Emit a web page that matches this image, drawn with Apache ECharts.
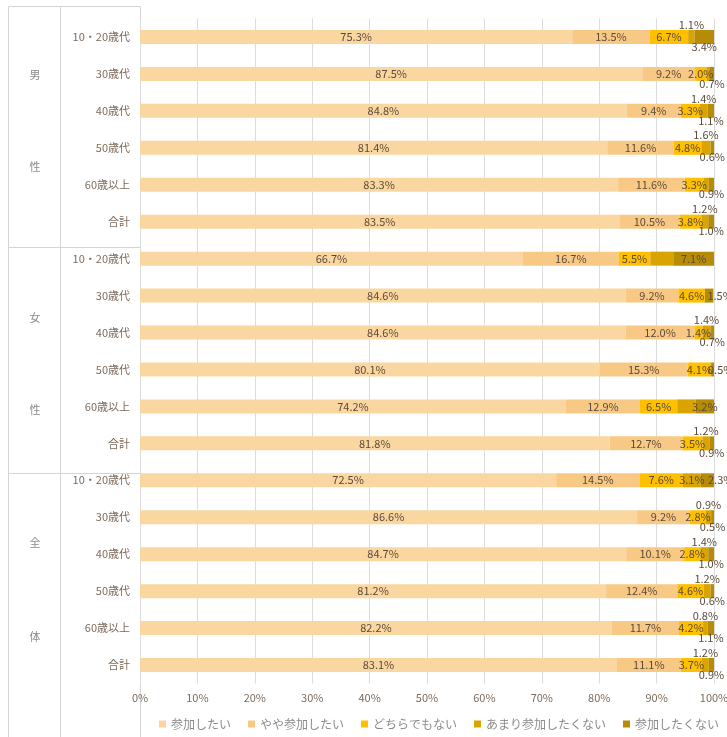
<!DOCTYPE html>
<html>
<head>
<meta charset="utf-8">
<script src="https://cdn.jsdelivr.net/npm/echarts@6/dist/echarts.min.js"></script>
<style>
  html, body { margin: 0; padding: 0; background: #ffffff; }
  #chart { width: 727px; height: 737px; }
</style>
</head>
<body>
<div id="chart"></div>
<script>
// Respondent groups and age bands (rows of the chart, top to bottom)
const groups = ['男性', '女性', '全体'];
const ageBands = ['10・20歳代', '30歳代', '40歳代', '50歳代', '60歳以上', '合計'];

// Answer categories (stack order, left to right)
const answers = ['参加したい', 'やや参加したい', 'どちらでもない', 'あまり参加したくない', '参加したくない'];

// Shares in %, 18 rows: 男性 ×6, 女性 ×6, 全体 ×6
const wantToJoin = [75.3, 87.5, 84.8, 81.4, 83.3, 83.5,
                    66.7, 84.6, 84.6, 80.1, 74.2, 81.8,
                    72.5, 86.6, 84.7, 81.2, 82.2, 83.1];
const somewhatWant = [13.5, 9.2, 9.4, 11.6, 11.6, 10.5,
                      16.7, 9.2, 12.0, 15.3, 12.9, 12.7,
                      14.5, 9.2, 10.1, 12.4, 11.7, 11.1];
const neutral = [6.7, 2.0, 3.3, 4.8, 3.3, 3.8,
                 5.5, 4.6, 1.4, 4.1, 6.5, 3.5,
                 7.6, 2.8, 2.8, 4.6, 4.2, 3.7];
const ratherNot = [1.1, 0.6, 1.4, 1.6, 0.9, 1.2,
                   4.0, 0.0, 1.4, 0.0, 3.2, 1.2,
                   3.1, 0.9, 1.4, 1.2, 0.8, 1.2];
const notAtAll = [3.4, 0.7, 1.1, 0.6, 0.9, 1.0,
                  7.1, 1.5, 0.7, 0.5, 3.2, 0.9,
                  2.3, 0.5, 1.0, 0.6, 1.1, 0.9];

// Rows whose あまり参加したくない value carries no printed label
const unlabeledRatherNot = [1, 4, 6, 10];

// X axis ticks
const xMin = 0, xMax = 100, xStep = 10;

const rowKeys = [];
groups.forEach(g => ageBands.forEach(a => rowKeys.push(g + '|' + a)));

const colors = ['#FAD7A0', '#F8C985', '#FFC000', '#D9A300', '#B68B06'];
const labelColor = '#5b4a3a';
const fontFamily = '"Noto Sans CJK JP", "Noto Sans", sans-serif';
const fmt = v => v.toFixed(1) + '%';

function ratherNotLabelState(i) {
  const v = ratherNot[i];
  if (v === 0 || unlabeledRatherNot.includes(i)) return 'hidden';
  return v >= 2.5 ? 'inside' : 'top';
}

function baseLabel() {
  return { show: true, color: labelColor, fontSize: 11, fontFamily: fontFamily, formatter: p => fmt(p.value) };
}

const seriesValues = [wantToJoin, somewhatWant, neutral, ratherNot, notAtAll];

const series = seriesValues.map((vals, si) => {
  const data = vals.map((v, i) => {
    const item = { value: v };
    if (si === 3) {
      const st = ratherNotLabelState(i);
      if (st === 'hidden') item.label = { show: false };
      else if (st === 'top') item.label = { show: true, position: 'top', distance: 0 };
      else item.label = { show: true, position: 'inside' };
    } else if (si === 4) {
      const st = ratherNotLabelState(i);
      if (v >= 3.2 && st === 'hidden') {
        item.label = { show: true, position: 'inside' };
      } else if (ratherNot[i] === 0 || st === 'inside') {
        item.label = { show: true, position: 'right', distance: -6 };
      } else {
        item.label = { show: true, position: 'bottom', distance: -3, offset: [7, 0] };
      }
    } else if (v === 0) {
      item.label = { show: false };
    }
    return item;
  });
  return {
    name: answers[si],
    type: 'bar',
    stack: 'total',
    barWidth: 14,
    itemStyle: { color: colors[si] },
    label: Object.assign(baseLabel(), { position: 'inside' }),
    labelLayout: { hideOverlap: false },
    data: data
  };
});

// Left-hand table: frame lines and vertical group captions
const lineStyle = { stroke: '#d4d4d4', lineWidth: 1 };
const tableLines = [
  [8, 6, 140, 6],
  [8, 6, 8, 737],
  [60, 6, 60, 737],
  [140, 6, 140, 737],
  [8, 247, 140, 247],
  [8, 473, 140, 473]
].map(c => ({
  type: 'line', silent: true,
  shape: { x1: c[0] + 0.5, y1: c[1] + 0.5, x2: c[2] + 0.5, y2: c[3] + 0.5 },
  style: lineStyle
}));

const captionChars = [
  ['男', 75], ['性', 167],
  ['女', 318], ['性', 410],
  ['全', 543], ['体', 637]
];
const captions = captionChars.map(c => ({
  type: 'text', silent: true,
  x: 35, y: c[1],
  style: { text: c[0], fill: '#8a8a8a', font: '11px ' + fontFamily, align: 'center', verticalAlign: 'middle' }
}));

const chart = echarts.init(document.getElementById('chart'), null, { renderer: 'canvas' });
chart.setOption({
  animation: false,
  backgroundColor: '#ffffff',
  textStyle: { fontFamily: fontFamily },
  grid: { left: 140, right: 13, top: 18.5, bottom: 53.5, containLabel: false, outerBoundsMode: 'none' },
  legend: {
    data: answers,
    left: 154,
    top: 713,
    width: 570,
    icon: 'rect',
    itemWidth: 7,
    itemHeight: 7,
    itemGap: 17,
    textStyle: { color: '#8a8a8a', fontSize: 12, fontFamily: fontFamily }
  },
  xAxis: {
    type: 'value',
    min: xMin,
    max: xMax,
    interval: xStep,
    axisLine: { show: false },
    axisTick: { show: false },
    axisLabel: { color: '#7d6b5b', fontSize: 11, margin: 9, formatter: '{value}%' },
    splitLine: { show: true, lineStyle: { color: '#dcdcdc', width: 1 } }
  },
  yAxis: {
    type: 'category',
    data: rowKeys,
    inverse: true,
    axisLine: { show: false },
    axisTick: { show: false },
    axisLabel: {
      color: '#7d6b5b', fontSize: 11, margin: 10,
      formatter: v => v.split('|')[1]
    }
  },
  graphic: tableLines.concat(captions),
  series: series
});
</script>
</body>
</html>
